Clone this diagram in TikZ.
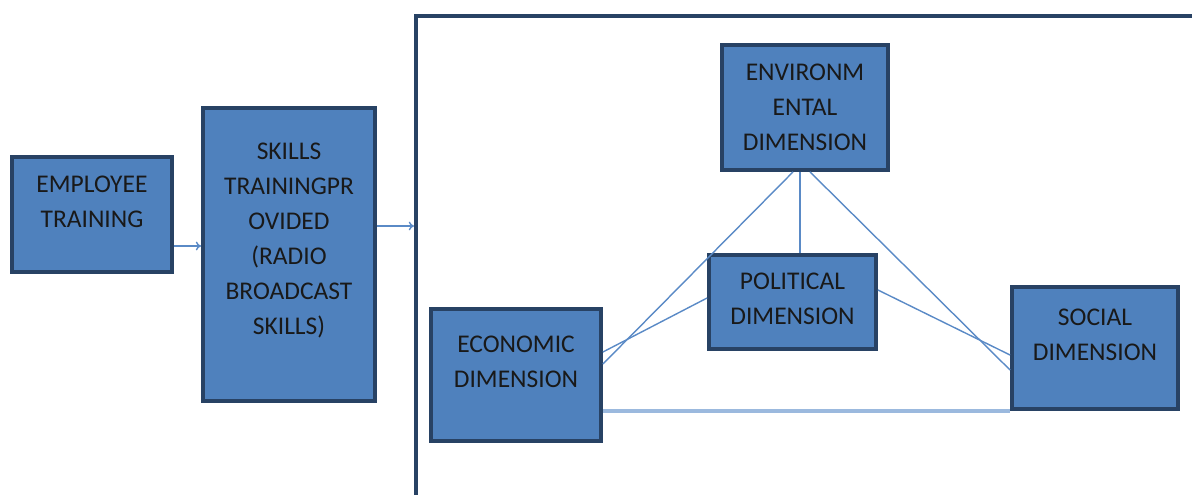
\documentclass[tikz,border=0pt]{standalone}
\usepackage{fontspec}
\setmainfont{Carlito}
\usepackage{tikz}
\usetikzlibrary{arrows.meta,positioning,calc}
\definecolor{dimfill}{RGB}{79,129,189}
\definecolor{dimborder}{RGB}{40,66,100}
\definecolor{dimline}{RGB}{90,138,198}
\definecolor{dimpale}{RGB}{155,185,222}
\definecolor{dimtext}{RGB}{25,25,25}

\begin{document}
\begin{tikzpicture}[
  every node/.style={font=\fontsize{14.5}{19.9}\selectfont, text=dimtext},
  dimbox/.style={rectangle, draw=dimborder, fill=dimfill, line width=2.2pt},
  dimlabel/.style={align=center, inner sep=0pt},
  link/.style={draw=dimline, line width=0.8pt},
  arrowlink/.style={link, -{To[length=3pt,width=5pt]}},
]
\useasboundingbox (0,0) rectangle (23.84,-9.9);
\clip (0,0) rectangle (23.84,-9.9);

% Left: training boxes
\node[dimbox, minimum width=3.2cm, minimum height=2.3cm] (emp_box) at (1.84,-4.29) {};
\node[dimlabel] (emp_text) at ($(emp_box.center)+(0,0.25cm)$) {EMPLOYEE\\TRAINING};

\node[dimbox, minimum width=3.44cm, minimum height=5.86cm] (skills_box) at (5.78,-5.09) {};
\node[dimlabel] (skills_text) at ($(skills_box.center)+(0,0.28cm)$)
      {SKILLS\\TRAININGPR\\OVIDED\\(RADIO\\BROADCAST\\SKILLS)};

% Open frame round the dimensions
\node[rectangle, draw=dimborder, line width=2pt, anchor=north west,
      minimum width=20cm, minimum height=15cm] (frame) at (8.28,-0.28) {};

% Dimensions
\node[dimbox, minimum width=3.32cm, minimum height=2.5cm] (env_box) at (16.1,-2.15) {};
\node[dimlabel] (env_text) at (env_box.center) {ENVIRONM\\ENTAL\\DIMENSION};

\node[dimbox, minimum width=3.34cm, minimum height=1.88cm] (pol_box) at (15.85,-6.04) {};
\node[dimlabel] (pol_text) at ($(pol_box.center)+(0,0.06cm)$) {POLITICAL\\DIMENSION};

\node[dimbox, minimum width=3.4cm, minimum height=2.64cm] (eco_box) at (10.32,-7.5) {};
\node[dimlabel] (eco_text) at ($(eco_box.center)+(0,0.27cm)$) {ECONOMIC\\DIMENSION};

\node[dimbox, minimum width=3.32cm, minimum height=2.44cm] (soc_box) at (21.9,-6.96) {};
\node[dimlabel] (soc_text) at ($(soc_box.center)+(0,0.26cm)$) {SOCIAL\\DIMENSION};

% Arrows
\draw[arrowlink] ([yshift=-0.63cm]emp_box.east) -- ([yshift=-0.63cm]emp_box.east -| skills_box.west);
\draw[arrowlink] ([yshift=0.57cm]skills_box.east) -- ([yshift=0.57cm]skills_box.east -| frame.west);

% Links between dimensions
\draw[link] ([xshift=-0.1cm]env_box.south) -- ([xshift=-0.1cm]env_box.south |- pol_box.north);
\draw[link] ([xshift=-0.24cm]env_box.south) -- ([yshift=0.22cm]eco_box.east);
\draw[link] ([xshift=0.1cm]env_box.south) -- ([yshift=-0.44cm]soc_box.west);
\draw[link] ([yshift=0.08cm]pol_box.west) -- ([yshift=0.46cm]eco_box.east);
\draw[link] ([yshift=0.24cm]pol_box.east) -- ([yshift=-0.14cm]soc_box.west);
\draw[draw=dimpale, line width=2pt] (eco_box.east |- soc_box.south west) -- (soc_box.south west);
\end{tikzpicture}
\end{document}
